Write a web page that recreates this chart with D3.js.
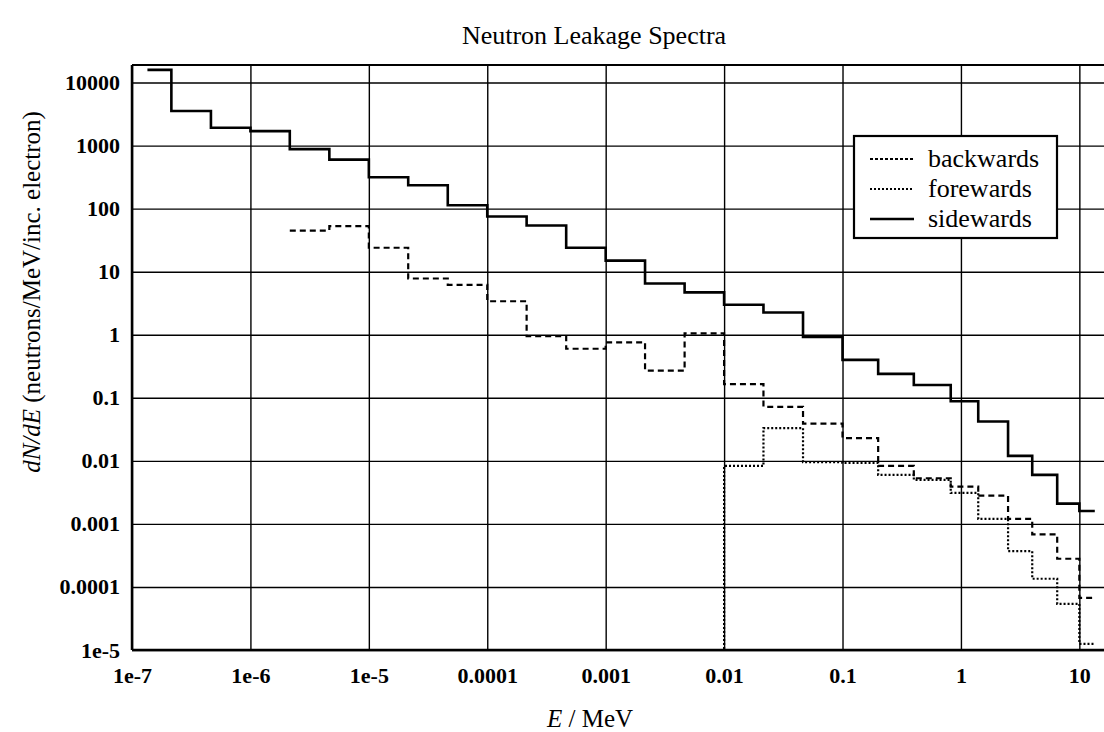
<!DOCTYPE html>
<html>
<head>
<meta charset="utf-8">
<script src="https://cdn.jsdelivr.net/npm/d3@7"></script>
<style>
	body { margin: 0; background: #fff; }
	svg { display: block; font-family: "Liberation Serif", "DejaVu Serif", serif; }
	.grid line { stroke: #000; stroke-width: 1.4; }
	.grid path { display: none; }
	.tick text { font-size: 22px; font-weight: bold; fill: #000; }
</style>
</head>
<body>
<div id="chart"></div>
<script>
// bin edges in MeV (1/3 decade at low energy, coarser above 0.1 MeV)
var energyEdges = [1.35e-7, 2.15e-7, 4.64e-7, 1e-6, 2.15e-6, 4.64e-6, 1e-5, 2.15e-5, 4.64e-5,
	1e-4, 2.15e-4, 4.64e-4, 1e-3, 2.15e-3, 4.64e-3, 0.01, 0.0215, 0.0464,
	0.1, 0.2, 0.4, 0.82, 1.4, 2.5, 4, 6.5, 10, 13.5];

// dN/dE per bin
var sidewards = [15900, 3540, 1920, 1700, 880, 600, 315, 235, 113, 75, 54, 24, 15, 6.5, 4.7,
	3.0, 2.25, 0.92, 0.4, 0.24, 0.16, 0.088, 0.042, 0.012, 0.006, 0.0021, 0.0016];
var backwards = [45, 53, 24, 7.8, 6.2, 3.4, 0.95, 0.6, 0.76, 0.27, 1.05,
	0.165, 0.072, 0.039, 0.023, 0.0083, 0.0053, 0.0039, 0.0028, 0.0012, 0.00068, 0.00028, 6.7e-5];
var forewards = [0.0083, 0.033, 0.0095, 0.0093, 0.006, 0.005, 0.0031, 0.0012, 0.00037, 0.000135, 5.4e-5, 1.25e-5];

// first edge of each series in energyEdges
var sideStart = 0, backStart = 4, foreStart = 15;

var xTicks = [1e-7, 1e-6, 1e-5, 1e-4, 1e-3, 0.01, 0.1, 1, 10];
var xTickLabels = ['1e-7', '1e-6', '1e-5', '0.0001', '0.001', '0.01', '0.1', '1', '10'];
var yTicks = [1e4, 1e3, 100, 10, 1, 0.1, 0.01, 1e-3, 1e-4, 1e-5];
var yTickLabels = ['10000', '1000', '100', '10', '1', '0.1', '0.01', '0.001', '0.0001', '1e-5'];

var
W = 1104, H = 732,
margin = {top: 65, left: 132, bottom: 82},
plotW = 983,
plotH = H - margin.top - margin.bottom;

var svg = d3.select('#chart')
	.append('svg')
	.attr('width', W)
	.attr('height', H);

var x = d3.scaleLog().domain([1e-7, 20]).range([0, plotW]);
var y = d3.scaleLog().domain([1e-5, 1.9e4]).range([plotH, 0]);

var g = svg.append('g')
	.attr('transform', 'translate(' + margin.left + ',' + margin.top + ')');

// grid via axes
g.append('g')
	.attr('class', 'grid')
	.attr('transform', 'translate(0,' + plotH + ')')
	.call(d3.axisBottom(x).tickValues(xTicks)
		.tickFormat(function(d, i) { return xTickLabels[i]; })
		.tickSize(-plotH).tickPadding(17));

g.append('g')
	.attr('class', 'grid')
	.call(d3.axisLeft(y).tickValues(yTicks)
		.tickFormat(function(d, i) { return yTickLabels[i]; })
		.tickSize(-plotW).tickPadding(12));

// drop the sans-serif that d3.axis puts on its group
g.selectAll('.grid').attr('font-family', null).attr('font-size', null);

// frame
g.append('line').attr('x1', 0).attr('x2', 0).attr('y1', 0).attr('y2', plotH)
	.attr('stroke', '#000').attr('stroke-width', 2.5);
g.append('line').attr('x1', 0).attr('x2', plotW).attr('y1', plotH).attr('y2', plotH)
	.attr('stroke', '#000').attr('stroke-width', 2.5);
g.append('line').attr('x1', 0).attr('x2', plotW).attr('y1', 0).attr('y2', 0)
	.attr('stroke', '#000').attr('stroke-width', 2.2);

svg.append('clipPath').attr('id', 'plotClip')
	.append('rect').attr('width', plotW).attr('height', plotH);

function stepPoints(values, start) {
	var pts = values.map(function(v, i) { return [energyEdges[start + i], v]; });
	pts.push([energyEdges[start + values.length], values[values.length - 1]]);
	return pts;
}

var step = d3.line()
	.x(function(d) { return x(d[0]); })
	.y(function(d) { return y(d[1]); })
	.curve(d3.curveStepAfter);

var series = [
	{name: 'backwards', values: backwards, start: backStart, dash: '6,4', width: 2.2},
	{name: 'forewards', values: forewards, start: foreStart, dash: '2,2', width: 2.2},
	{name: 'sidewards', values: sidewards, start: sideStart, dash: null, width: 2.6}
];

var plot = g.append('g').attr('clip-path', 'url(#plotClip)');

series.forEach(function(s) {
	var pts = stepPoints(s.values, s.start);
	// forewards rises from zero at 0.01 MeV
	if (s.name == 'forewards') pts.unshift([pts[0][0], y.domain()[0] / 10]);
	plot.append('path')
		.datum(pts)
		.attr('fill', 'none')
		.attr('stroke', '#000')
		.attr('stroke-width', s.width)
		.attr('stroke-dasharray', s.dash)
		.attr('d', step);
});

// legend
var legend = svg.append('g').attr('transform', 'translate(854,136)');
legend.append('rect')
	.attr('width', 203).attr('height', 102)
	.attr('fill', '#fff').attr('stroke', '#000').attr('stroke-width', 2.2);
var item = legend.selectAll('.legend-item')
	.data(series)
	.enter()
	.append('g')
	.attr('class', 'legend-item')
	.attr('transform', function(d, i) { return 'translate(0,' + (23 + i * 30) + ')'; });
item.append('line')
	.attr('x1', 16).attr('x2', 60)
	.attr('stroke', '#000')
	.attr('stroke-width', function(d) { return d.width; })
	.attr('stroke-dasharray', function(d) { return d.dash == '6,4' ? '3,2' : d.dash; });
item.append('text')
	.attr('x', 74).attr('y', 8)
	.attr('font-size', 26)
	.text(function(d) { return d.name; });

// titles
svg.append('text')
	.attr('x', 594).attr('y', 44)
	.attr('text-anchor', 'middle')
	.attr('font-size', 26)
	.text('Neutron Leakage Spectra');

var xt = svg.append('text')
	.attr('x', 590).attr('y', 727)
	.attr('text-anchor', 'middle')
	.attr('font-size', 25);
xt.append('tspan').attr('font-style', 'italic').text('E');
xt.append('tspan').text(' / MeV');

var yt = svg.append('text')
	.attr('transform', 'translate(40,292) rotate(-90)')
	.attr('text-anchor', 'middle')
	.attr('font-size', 25);
yt.append('tspan').attr('font-style', 'italic').text('dN/dE');
yt.append('tspan').text(' (neutrons/MeV/inc. electron)');
</script>
</body>
</html>
